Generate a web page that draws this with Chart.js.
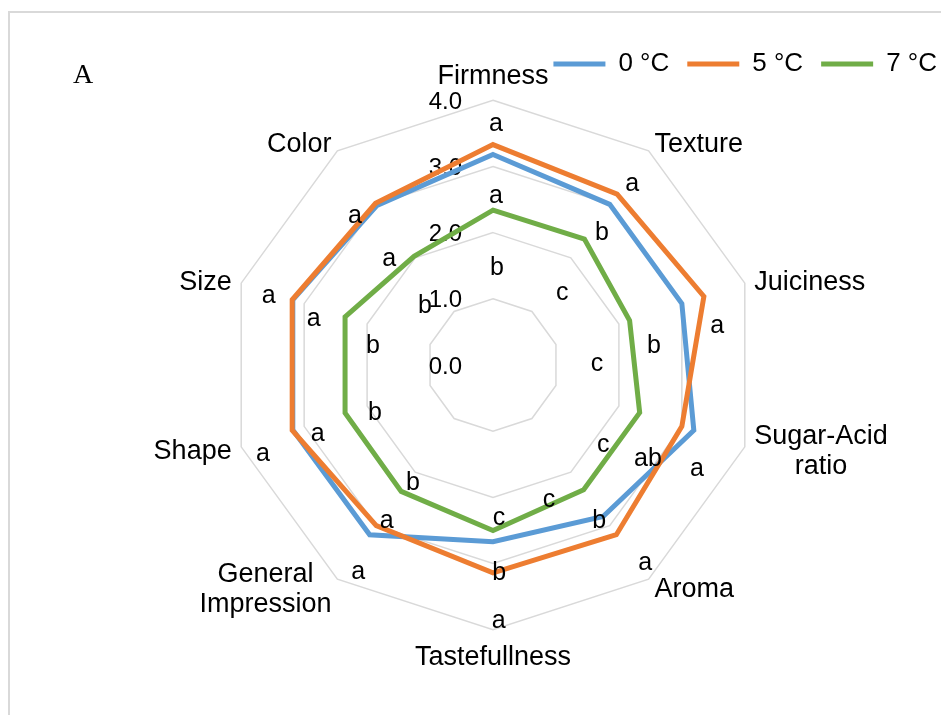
<!DOCTYPE html>
<html>
<head>
<meta charset="utf-8">
<script src="https://cdn.jsdelivr.net/npm/chart.js@4.4.1/dist/chart.umd.min.js"></script>
<style>
    html, body { margin: 0; padding: 0; width: 941px; height: 715px; overflow: hidden; background: #fff; }
    #frame {
        position: absolute; left: 8px; top: 11px; width: 1000px; height: 800px;
        border-top: 2px solid #d9d9d9; border-left: 2px solid #d9d9d9;
    }
    #chart { position: absolute; left: 31px; top: 0; }
</style>
</head>
<body>
<div id="frame"></div>
<canvas id="chart" width="924" height="715"></canvas>
<script>
const attributes = ['Firmness', 'Texture', 'Juiciness', ['Sugar-Acid', 'ratio'], 'Aroma',
    'Tastefullness', ['General', 'Impression'], 'Shape', 'Size', 'Color'];
const tickValues = [0, 1, 2, 3, 4];

const temp0 = [3.18, 3.00, 3.00, 3.19, 2.83, 2.67, 3.17, 3.18, 3.18, 2.98];
const temp5 = [3.33, 3.19, 3.35, 3.00, 3.17, 3.14, 3.00, 3.19, 3.19, 3.02];
const temp7 = [2.34, 2.35, 2.17, 2.33, 2.33, 2.50, 2.36, 2.35, 2.35, 2.03];

// significance letters, three rings per attribute
const lettersOuter = ['a', 'a', 'a', 'a', 'a', 'a', 'a', 'a', 'a', 'a'];
const lettersMiddle = ['a', 'b', 'b', 'ab', 'b', 'b', 'a', 'a', 'a', 'a'];
const lettersInner = ['b', 'c', 'c', 'c', 'c', 'c', 'b', 'b', 'b', 'b'];

// where each letter sits: [score along radius, bearing in degrees]
const outerAt = [[3.66, 0.7], [3.46, 37.4], [3.44, 79.9], [3.45, 116.8], [3.76, 142.3],
    [3.85, 178.7], [3.72, 213.2], [3.72, 249.1], [3.55, 287.4], [3.08, 317.4]];
const middleAt = [[2.57, 1.0], [2.60, 39.3], [2.45, 82.9], [2.73, 121.0], [2.84, 145.6],
    [3.13, 178.3], [2.84, 214.4], [2.84, 248.8], [2.80, 284.7], [2.25, 315.8]];
const innerAt = [[1.48, 2.3], [1.52, 43.4], [1.57, 88.9], [2.05, 125.7], [2.19, 157.3],
    [2.30, 177.7], [2.14, 214.4], [1.92, 248.3], [1.84, 279.5], [1.37, 311.4]];

const FONT = '"Liberation Sans", Arial, sans-serif';

const overlay = {
    id: 'overlay',
    beforeDatasetsDraw(chart) {
        const r = chart.scales.r;
        const ctx = chart.ctx;
        ctx.save();
        ctx.fillStyle = '#000';
        ctx.font = `24px ${FONT}`;
        ctx.textAlign = 'right';
        ctx.textBaseline = 'middle';
        tickValues.forEach(v => {
            const y = r.yCenter - r.getDistanceFromCenterForValue(v);
            ctx.fillText(v.toFixed(1), r.xCenter - 31, y + 2);
        });
        ctx.restore();
    },
    afterDatasetsDraw(chart) {
        const r = chart.scales.r;
        const ctx = chart.ctx;
        ctx.save();
        ctx.fillStyle = '#000';
        ctx.textAlign = 'center';
        ctx.textBaseline = 'middle';

        // category labels outside the 4.0 ring
        ctx.font = `27px ${FONT}`;
        const outer = r.getDistanceFromCenterForValue(4) + 10;
        chart.data.labels.forEach((label, i) => {
            const lines = [].concat(label);
            const p = r.getPointPosition(i, outer);
            const ang = r.getIndexAngle(i);
            const s = Math.sin(ang);
            const c = Math.cos(ang);
            const w = Math.max(...lines.map(l => ctx.measureText(l).width));
            let cx = p.x;
            let cy = p.y + 2;
            if (s > 0.01) cx += w / 2;
            else if (s < -0.01) cx -= w / 2;
            else cy -= c * 16;
            lines.forEach((l, k) => {
                ctx.fillText(l, cx, cy + (k - (lines.length - 1) / 2) * 30);
            });
        });

        // letters
        ctx.font = `25px ${FONT}`;
        [[lettersOuter, outerAt], [lettersMiddle, middleAt], [lettersInner, innerAt]].forEach(([letters, at]) => {
            letters.forEach((txt, i) => {
                const [v, deg] = at[i];
                const d = r.getDistanceFromCenterForValue(v);
                const a = deg * Math.PI / 180;
                ctx.fillText(txt, r.xCenter + d * Math.sin(a), r.yCenter - d * Math.cos(a) + 1);
            });
        });

        // panel letter
        ctx.font = '28px "Liberation Serif", "Times New Roman", serif';
        ctx.textAlign = 'left';
        ctx.textBaseline = 'alphabetic';
        ctx.fillText('A', 42, 83);
        ctx.restore();
    }
};

const series = (label, data, color, order) => ({
    label,
    data,
    order,
    borderColor: color,
    backgroundColor: color,
    borderWidth: 5,
    borderCapStyle: 'round',
    fill: false,
    pointRadius: 0,
    pointHoverRadius: 0,
});

new Chart(document.getElementById('chart'), {
    type: 'radar',
    data: {
        labels: attributes,
        datasets: [
            series('0 °C', temp0, '#5B9BD5', 1),
            series('5 °C', temp5, '#ED7D31', 0),
            series('7 °C', temp7, '#70AD47', 2),
        ],
    },
    options: {
        responsive: false,
        animation: false,
        layout: { padding: { top: 33, bottom: 72, left: 0, right: 0 } },
        plugins: {
            tooltip: { enabled: false },
            legend: {
                position: 'top',
                align: 'end',
                labels: {
                    usePointStyle: true,
                    pointStyle: 'line',
                    pointStyleWidth: 52,
                    padding: 18,
                    color: '#000',
                    font: { family: FONT, size: 26 },
                    sort: (a, b) => a.datasetIndex - b.datasetIndex,
                },
            },
        },
        scales: {
            r: {
                min: 0,
                max: 4.2,
                bounds: 'data',
                ticks: { display: false, stepSize: 1, includeBounds: false },
                grid: { color: '#d9d9d9', lineWidth: 1.5 },
                angleLines: { display: false },
                pointLabels: { display: false },
            },
        },
    },
    plugins: [overlay],
});
</script>
</body>
</html>
